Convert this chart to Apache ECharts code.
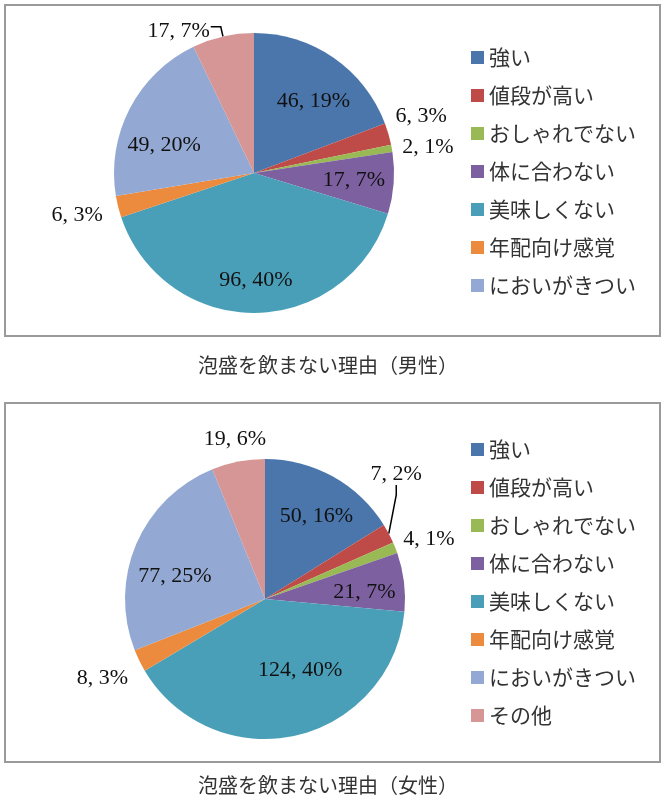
<!DOCTYPE html>
<html>
<head>
<meta charset="utf-8">
<script src="https://cdn.jsdelivr.net/npm/echarts@6/dist/echarts.min.js"></script>
<style>
  html, body { margin: 0; padding: 0; background: #fff; }
  #main { width: 666px; height: 809px; }
</style>
</head>
<body>
<div id="main"></div>
<script>
(function () {
    // reasons (same order in both charts)
    var reasons = ['強い', '値段が高い', 'おしゃれでない', '体に合わない', '美味しくない', '年配向け感覚', 'においがきつい', 'その他'];
    var maleCounts = [46, 6, 2, 17, 96, 6, 49, 17];
    var femaleCounts = [50, 7, 4, 21, 124, 8, 77, 19];
    var maleTitle = '泡盛を飲まない理由（男性）';
    var femaleTitle = '泡盛を飲まない理由（女性）';

    var colors = ['#4a76ac', '#be4b48', '#98b954', '#7d60a0', '#4a9fb8', '#ec8a3e', '#93a9d3', '#d69695'];

    // label nudges from the library's default label spot
    var maleNudge = [[18, -12], [97, -36], [102, -13], [27, 2], [1, 34], [-106, 25], [-25, 6], [4, 4]];
    var femaleNudge = [[16, -19], [-42, -55], [96, -33], [27, 2], [19, 0], [-97, 47], [-23, 6], [-16, -88]];
    // slices whose label sits outside with a leader line
    var maleLeader = [7];
    var femaleLeader = [1];

    var labelFont = 'Liberation Serif';

    function buildData(counts, leader) {
        var out = [];
        for (var i = 0; i < counts.length; i++) {
            var item = { name: reasons[i], value: counts[i] };
            if (leader.indexOf(i) >= 0) {
                item.label = { position: 'outside' };
                item.labelLine = { show: true, length: 10, length2: 10, lineStyle: { color: '#000', width: 1.5 } };
            }
            out.push(item);
        }
        return out;
    }

    function pieSeries(counts, nudge, leader, reroute, center) {
        return {
            type: 'pie',
            radius: 140,
            center: center,
            startAngle: 90,
            clockwise: true,
            percentPrecision: 0,
            avoidLabelOverlap: false,
            data: buildData(counts, leader),
            label: {
                show: true,
                position: 'inside',
                formatter: '{c}, {d}%',
                fontFamily: labelFont,
                fontSize: 22,
                color: '#111'
            },
            labelLine: { show: false },
            labelLayout: function (p) {
                var n = nudge[p.dataIndex];
                if (reroute) {
                    if (leader.indexOf(p.dataIndex) >= 0) {
                        // x/y makes the library redraw the leader line to the moved label
                        var r = p.labelRect;
                        return { x: r.x + n[0], y: r.y + r.height / 2 + n[1] };
                    }
                }
                return { dx: n[0], dy: n[1] };
            },
            itemStyle: { borderWidth: 0 },
            emphasis: { disabled: true }
        };
    }

    var legendText = {
        fontFamily: 'Noto Sans CJK JP',
        fontSize: 21,
        lineHeight: 21,
        color: '#333'
    };
    var titleText = { fontFamily: 'Noto Sans CJK JP', fontSize: 20, fontWeight: 'normal', color: '#333' };

    var chart = echarts.init(document.getElementById('main'));
    chart.setOption({
        animation: false,
        color: colors,
        graphic: [
            { type: 'rect', shape: { x: 5, y: 5, width: 655, height: 331 }, style: { fill: 'none', stroke: '#9a9a9a', lineWidth: 2 } },
            { type: 'rect', shape: { x: 5, y: 403, width: 655, height: 359 }, style: { fill: 'none', stroke: '#9a9a9a', lineWidth: 2 } }
        ],
        title: [
            { text: maleTitle, left: 323, top: 350, textAlign: 'center', textStyle: titleText },
            { text: femaleTitle, left: 323, top: 770, textAlign: 'center', textStyle: titleText }
        ],
        legend: [
            { data: reasons.slice(0, 7), orient: 'vertical', left: 466, top: 42, icon: 'rect',
              itemWidth: 13, itemHeight: 13, itemGap: 17, textStyle: legendText, selectedMode: false },
            { data: reasons.slice(0), orient: 'vertical', left: 466, top: 434, icon: 'rect',
              itemWidth: 13, itemHeight: 13, itemGap: 17, textStyle: legendText, selectedMode: false }
        ],
        series: [
            pieSeries(maleCounts, maleNudge, maleLeader, false, [254, 173]),
            pieSeries(femaleCounts, femaleNudge, femaleLeader, true, [265, 599])
        ]
    });
})();
</script>
</body>
</html>
